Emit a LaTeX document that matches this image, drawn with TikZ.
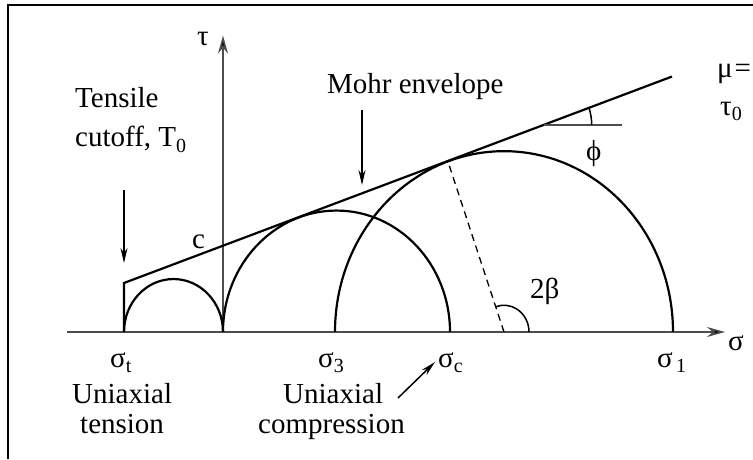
\documentclass[tikz,border=0pt]{standalone}
\usepackage{fontspec}
\setmainfont{Liberation Serif}
\usepackage{tikz}
\usetikzlibrary{arrows,arrows.meta,positioning,calc}
\newcommand{\lowidx}[1]{\raisebox{-0.45ex}{\fontsize{20}{20}\selectfont #1}}
\tikzset{
	curve/.style = {
		draw,
		line width=2.2pt
	},
	axis/.style = {
		-{Stealth[length=18pt, width=10pt, fill=black]},
		line width=1.6pt,
		draw=black!70
	},
	signal/.style = {
		-{Stealth[length=15pt, width=7pt]},
		line width=1.5pt
	},
	label/.style = {
		font=\fontsize{29}{31}\selectfont,
		inner sep=0pt,
		anchor=base west
	},
	angle/.style = {
		line width=1.5pt
	}
}
\begin{document}
\begin{tikzpicture}[x=1pt, y=1pt]
		\useasboundingbox (-223,-127) rectangle (530,332);
		
		% --- Marco ---
		\draw[line width=2.6pt] (-215,-127) -- (-215,327) -- (530,327);
		
		% --- Geometria (escala vertical del original) ---
		\begin{scope}[yscale=1.07]
			% Puntos sobre el eje sigma
			\coordinate (O) at (0,0);
			\coordinate (st) at (-99,0);
			\coordinate (s3) at (112,0);
			\coordinate (sc) at (227,0);
			\coordinate (s1) at (450,0);
			\coordinate (c3) at (281,0);
			\coordinate (left) at (-156,0);
			\coordinate (right) at (502,0);
			\coordinate (top) at (0,277);
			
			% Envolvente de Mohr
			\coordinate (T0) at (-99,45.8);
			\coordinate (E) at (449,238.7);
			\coordinate (P3) at (224.9,159.4);
			
			% Angulos
			\coordinate (b0) at (306,0);
			\coordinate (F) at (320.7,193.5);
			\coordinate (Fh) at (399,193.5);
			\coordinate (f0) at (368.7,193.5);
			
			% Ejes
			\draw[axis] (left) -- (right);
			\draw[axis] (O) -- (top);
			
			% Circulos de Mohr
			\draw[curve] (st) arc[start angle=180, end angle=0, radius=49.5];
			\draw[curve] (O) arc[start angle=180, end angle=0, radius=113.5];
			\draw[curve] (s3) arc[start angle=180, end angle=0, radius=169];
			
			% Corte de traccion + envolvente
			\draw[curve] (st) -- (T0) -- (E);
			
			% Radio al punto de tangencia y angulo 2beta
			\draw[dash pattern=on 7pt off 5pt, line width=1.3pt] (c3) -- (P3);
			\draw[angle] (b0) arc[start angle=0, end angle=109.4, radius=25];
			
			% Angulo phi
			\draw[angle, draw=black!70] (F) -- (Fh);
			\draw[angle] (f0) arc[start angle=0, end angle=19.4, radius=48];
		\end{scope}
		
		% --- Flechas indicadoras ---
		\coordinate (ta1) at (-99,142);
		\coordinate (ta2) at (-99,69);
		\coordinate (ma1) at (139,222);
		\coordinate (ma2) at (139,147);
		\coordinate (ca1) at (175,-66);
		\coordinate (ca2) at (212,-30);
		\draw[signal] (ta1) -- (ta2);
		\draw[signal] (ma1) -- (ma2);
		\draw[signal] (ca1) -- (ca2);
		
		% --- Etiquetas ---
		\node[label] (tau) at (-26,287) {τ};
		\node[label] (sigma) at (505,-18) {σ};
		\node[label] (c) at (-31,84) {c};
		\node[label, anchor=north west, align=left, font=\fontsize{29}{39}\selectfont]
		(tensile) at (-148,245) {Tensile\\cutoff, T\lowidx{0}};
		\node[label] (mohr) at (104,239) {Mohr envelope};
		\node[label] (phi) at (363,172) {ϕ};
		\node[label] (beta) at (307,34) {2β};
		\node[label] (mu) at (494,255) {μ\kern2pt=};
		\node[label] (tau0) at (497,217) {τ\lowidx{0}};
		
		\node[label] (sigt) at (-113,-35) {σ\lowidx{t}};
		\node[label] (sig3) at (95,-35) {σ\lowidx{3}};
		\node[label] (sigc) at (215,-35) {σ\lowidx{c}};
		\node[label] (sig1) at (434,-35) {σ\lowidx{\,1}};
		
		\node[label] (uni1) at (-151,-71) {Uniaxial};
		\node[label] (ten) at (-143,-101) {tension};
		\node[label] (uni2) at (60,-71) {Uniaxial};
		\node[label] (comp) at (35,-101) {compression};
		
	\end{tikzpicture}
\end{document}
